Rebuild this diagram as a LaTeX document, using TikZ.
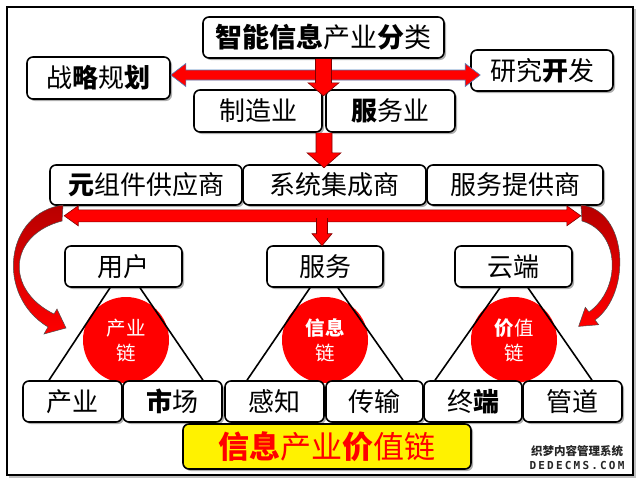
\documentclass[tikz,border=0pt]{standalone}
\usepackage{fontspec}
\setmainfont{Noto Sans CJK SC}
\newfontfamily\monof[LetterSpace=20]{DejaVu Sans Mono}
\usetikzlibrary{shadows,calc}
\definecolor{arrblue}{RGB}{79,129,189}
\newcommand\hv[1]{{\bfseries #1}}
% down arrow: #1 start, #2 length, #3 shaft half width, #4 head half width, #5 head length, #6 outline colour
\newcommand\dnarr[6]{%
 \fill[red] (#1) ++(-#3,0) -- ++(0,#2-#5) -- ++(#3-#4,0) -- ++(#4,#5) -- ++(#4,-#5) -- ++(#3-#4,0) -- ++(0,#5-#2) -- cycle;
 \draw[#6,line width=.6pt] (#1) ++(-#3,0) -- ++(0,#2-#5) -- ++(#3-#4,0) -- ++(#4,#5) -- ++(#4,-#5) -- ++(#3-#4,0) -- ++(0,#5-#2);}
% horizontal double arrow: #1 left tip, #2 right tip, #3 shaft half, #4 head half, #5 head length, #6 outline colour
\newcommand\hdarr[6]{%
 \filldraw[fill=red,draw=#6,line width=.6pt] (#1) -- ++(#5,-#4) -- ++(0,#4-#3) -- ($(#2)+(-#5,-#3)$) -- ++(0,#3-#4) -- (#2) -- ++(-#5,#4) -- ++(0,#3-#4) -- ($(#1)+(#5,#3)$) -- ++(0,#4-#3) -- cycle;}
\begin{document}
\begin{tikzpicture}[x=1pt,y=-1pt,
 box/.style={draw=black, line width=1.6pt, rounded corners=6pt, fill=white, inner sep=0pt,
   drop shadow={shadow xshift=2pt, shadow yshift=-2pt, fill=black!45, opacity=0.7},
   font=\fontsize{26}{26}\selectfont},
 circ/.style={circle, fill=red, minimum size=86pt, inner sep=0pt, text=white, align=center,
   font=\fontsize{19.5}{25}\selectfont},
 tri/.style={line width=1.6pt},
 curv/.style={top color=red!72!black, bottom color=red, draw=black!70, line width=.5pt}
]
\useasboundingbox (0,0) rectangle (639,480);
\fill[white] (0,0) rectangle (639,480);
\draw[black!25, line width=2pt] (9,477) -- (635,477) -- (635,9);
\draw[line width=2.5pt] (7,7) rectangle (633,475);

% top levels
\node[box, minimum width=241pt, minimum height=41pt, font=\fontsize{27}{27}\selectfont] (top) at (323.5,37.5) {\hv{智能信息}产业\hv{分}类};
\node[box, minimum width=143pt, minimum height=42pt] (zl) at (98.5,78) {战\hv{略}规\hv{划}};
\node[box, minimum width=142pt, minimum height=41pt] (yj) at (542,70.5) {研究\hv{开}发};
\node[box, minimum width=128pt, minimum height=42pt] (zz) at (258,111) {制造业};
\node[box, minimum width=129pt, minimum height=42pt] (fw) at (390.5,111) {\hv{服}务业};
\node[box, minimum width=192pt, minimum height=40pt] (yz) at (146,185) {\hv{元}组件供应商};
\node[box, minimum width=183pt, minimum height=40pt] (xt) at (334.5,185) {系统集成商};
\node[box, minimum width=176pt, minimum height=40pt] (fp) at (515,185) {服务提供商};
\node[box, minimum width=117pt, minimum height=41pt] (yh) at (123.5,266.5) {用户};
\node[box, minimum width=116pt, minimum height=41pt] (fu) at (325,266.5) {服务};
\node[box, minimum width=117pt, minimum height=41pt] (yd) at (513.5,266.5) {云端};

% circles
\node[circ] (c1) at (126,340) {产业\\链};
\node[circ] (c2) at (325,340) {\hv{信息}\\链};
\node[circ] (c3) at (514,340) {\hv{价}值\\链};

% bottom row
\node[box, minimum width=99pt, minimum height=41pt] (cy) at (72.5,401.5) {产业};
\node[box, minimum width=99pt, minimum height=41pt] (sc) at (172.5,401.5) {\hv{市}场};
\node[box, minimum width=99pt, minimum height=41pt] (gz) at (274.5,401.5) {感知};
\node[box, minimum width=97pt, minimum height=41pt] (cs) at (374.5,401.5) {传输};
\node[box, minimum width=98pt, minimum height=41pt] (zd) at (473,401.5) {终\hv{端}};
\node[box, minimum width=99pt, minimum height=41pt] (gd) at (572.5,401.5) {管道};
\node[box, fill=yellow, minimum width=288pt, minimum height=45pt, text=red, font=\fontsize{31}{31}\selectfont] (yl) at (327,446.5) {\hv{信息}产业\hv{价}值链};

% triangle legs
\draw[tri] ($(yh.south)+(-13.5,0)$) -- ($(cy.north)+(-23.5,0)$);
\draw[tri] ($(yh.south)+(16.5,0)$) -- ($(sc.north)+(30.5,0)$);
\draw[tri] ($(fu.south)+(-15,0)$) -- ($(gz.north)+(-27.5,0)$);
\draw[tri] ($(fu.south)+(13,0)$) -- ($(cs.north)+(28.5,0)$);
\draw[tri] ($(yd.south)+(-13.5,0)$) -- ($(zd.north)+(-38,0)$);
\draw[tri] ($(yd.south)+(14.5,0)$) -- ($(gd.north)+(19.5,0)$);

% arrows
\coordinate (a1l) at ($(zl.east)+(0,-3)$);
\coordinate (a1r) at ($(yj.west)+(10,4.5)$);
\hdarr{a1l}{a1r}{5}{11.5}{15}{arrblue}
\dnarr{top.south}{37}{8}{15.5}{13}{red!50!black}
\coordinate (a2s) at ($(zz.south east)!0.5!(fw.south west)$);
\dnarr{a2s}{35}{8}{17}{15}{red!50!black}
\coordinate (a3l) at ($(yz.south west)+(15,10)$);
\coordinate (a3r) at ($(fp.south east)+(-23,10)$);
\hdarr{a3l}{a3r}{6}{10}{14}{red!50!black}
\coordinate (a4s) at ($(fu.north)+(-3,-27)$);
\dnarr{a4s}{27.5}{5.5}{10}{12}{red!50!black}

% curved arrows
\shade[curv] (63,205) .. controls (5,213) and (-5,295) .. (48,327) -- (44,334) -- (66,328) -- (57,309) -- (54,314) .. controls (5,290) and (8,235) .. (62,221) -- cycle;
\shade[curv] (581,205) .. controls (628,210) and (632,293) .. (595,320) -- (598.7,324.7) -- (578.6,326.4) -- (585.3,307.3) -- (589,312) .. controls (622,288) and (620,232) .. (582,221) -- cycle;

% watermark
\node[font=\fontsize{11.5}{12}\selectfont\bfseries, text=black!85, inner sep=0pt] (wm1) at (577,451) {织梦内容管理系统};
\node[font=\monof\fontsize{11}{12}\selectfont\bfseries, text=black!85, inner sep=0pt] (wm2) at (577,465) {DEDECMS.COM};
\end{tikzpicture}
\end{document}
